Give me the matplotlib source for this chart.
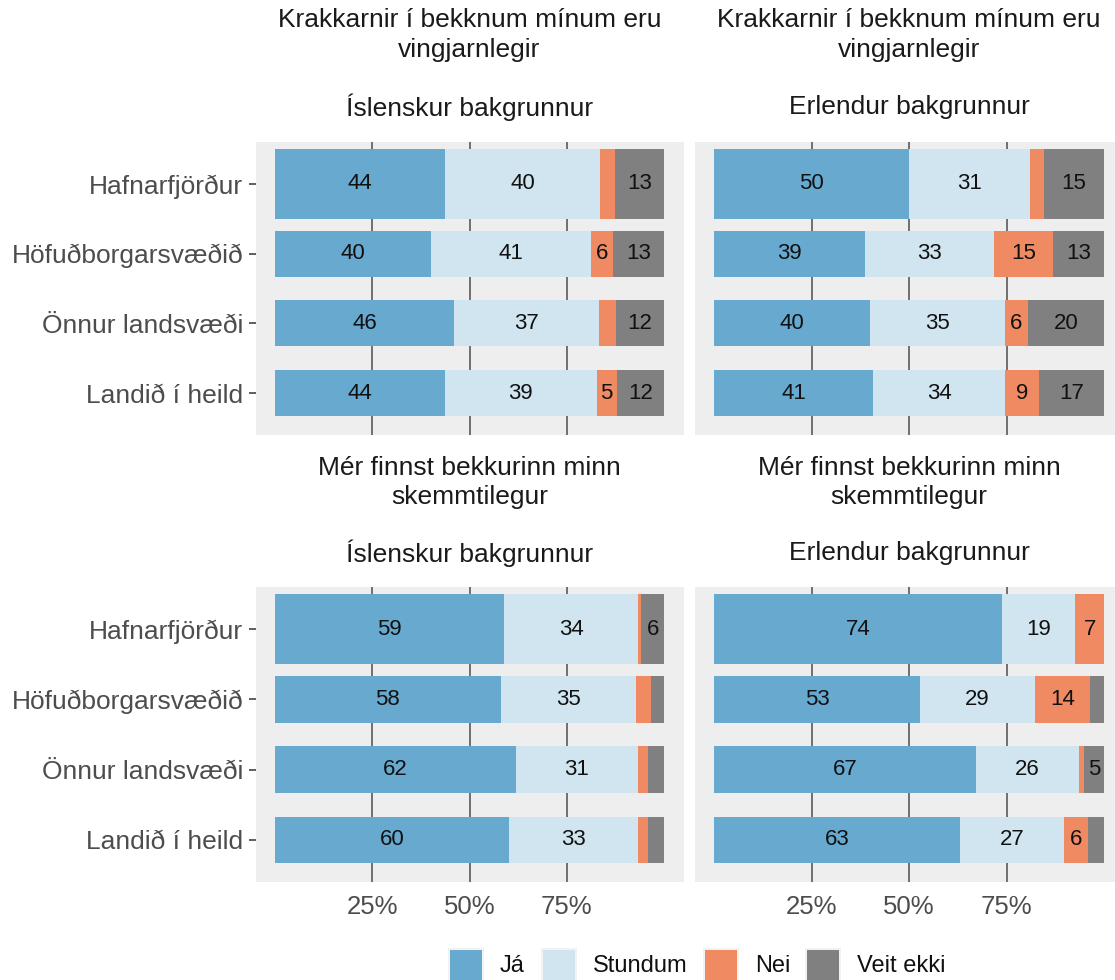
import matplotlib
matplotlib.use("Agg")
import matplotlib.pyplot as plt
from matplotlib.patches import Rectangle

plt.rcParams['font.family'] = ['Liberation Sans', 'DejaVu Sans']

categories = ["Hafnarfjörður", "Höfuðborgarsvæðið", "Önnur landsvæði", "Landið í heild"]
responses = ["Já", "Stundum", "Nei", "Veit ekki"]
colors = ["#67A9CF", "#D1E5F0", "#EF8A62", "#808080"]

questions = ["Krakkarnir í bekknum mínum eru\nvingjarnlegir",
             "Mér finnst bekkurinn minn\nskemmtilegur"]
backgrounds = ["Íslenskur bakgrunnur", "Erlendur bakgrunnur"]

# values per panel: rows = categories, columns = Já, Stundum, Nei, Veit ekki (%)
vingjarnlegir_islenskur = [
    [43.7, 39.9, 3.8, 12.6],
    [40.0, 41.2, 5.7, 13.1],
    [46.0, 37.3, 4.4, 12.3],
    [43.6, 39.1, 5.1, 12.2],
]
vingjarnlegir_erlendur = [
    [50.1, 30.8, 3.8, 15.3],
    [38.8, 33.1, 15.1, 13.0],
    [39.9, 34.6, 5.9, 19.6],
    [40.8, 33.8, 8.8, 16.6],
]
skemmtilegur_islenskur = [
    [58.9, 34.4, 0.8, 5.9],
    [58.0, 34.9, 3.8, 3.3],
    [62.0, 31.2, 2.6, 4.2],
    [60.1, 33.1, 2.8, 4.0],
]
skemmtilegur_erlendur = [
    [73.8, 18.8, 7.4, 0.0],
    [52.9, 29.4, 14.1, 3.6],
    [67.2, 26.4, 1.3, 5.1],
    [63.2, 26.6, 6.1, 4.1],
]
panels = [[vingjarnlegir_islenskur, vingjarnlegir_erlendur],
          [skemmtilegur_islenskur, skemmtilegur_erlendur]]

x_ticks = [25, 50, 75]
x_ticklabels = ["25%", "50%", "75%"]

W, H = 1115, 980
fig = plt.figure(figsize=(W / 100, H / 100), dpi=100)

col_x = [(255.5, 683.5), (694.5, 1123.5)]
row_y = [(142, 435), (587, 882)]
title_y = [(20, 50, 107), (468, 497, 553)]

bar_h = [1.0, 0.66, 0.66, 0.66]
grid_col = "#4D4D4D"

for r in range(2):
    for c in range(2):
        x0, x1 = col_x[c]
        y0, y1 = row_y[r]
        ax = fig.add_axes([x0 / W, 1 - y1 / H, (x1 - x0) / W, (y1 - y0) / H])
        ax.set_facecolor("#EEEEEE")
        for s in ax.spines.values():
            s.set_visible(False)
        data = panels[r][c]
        for i, cat in enumerate(categories):
            left = 0.0
            for j, resp in enumerate(responses):
                v = data[i][j]
                ax.barh(i, v, left=left, height=bar_h[i], color=colors[j], linewidth=0, zorder=2)
                if round(v) >= 5:
                    ax.text(left + v / 2, i, f"{v:.0f}", ha="center", va="center",
                            fontsize=16, color="#111111", zorder=3)
                left += v
        ax.set_xlim(-5, 105)
        ax.set_ylim(3.6, -0.6)
        ax.set_xticks(x_ticks)
        ax.grid(axis="x", color=grid_col, linewidth=1.1, zorder=1)
        ax.set_axisbelow(True)
        ax.tick_params(axis="x", length=0, pad=9, labelsize=18.5, labelcolor="#4D4D4D")
        if r == 1:
            ax.set_xticklabels(x_ticklabels)
        else:
            ax.set_xticklabels([])
        ax.set_yticks(range(len(categories)))
        if c == 0:
            ax.set_yticklabels(categories)
            ax.tick_params(axis="y", length=5, width=1.1, color="#333333", pad=4,
                           labelsize=19, labelcolor="#4D4D4D")
        else:
            ax.set_yticklabels([])
            ax.tick_params(axis="y", length=0)
        # titles
        cx = (x0 + x1) / 2 / W
        l1, l2 = questions[r].split("\n")
        ty = title_y[r]
        fig.text(cx, 1 - ty[0] / H, l1, ha="center", va="center", fontsize=19, color="#1A1A1A")
        fig.text(cx, 1 - ty[1] / H, l2, ha="center", va="center", fontsize=19, color="#1A1A1A")
        fig.text(cx, 1 - ty[2] / H, backgrounds[c], ha="center", va="center", fontsize=19, color="#1A1A1A")

# legend
key_x = [450, 543, 705, 807]
text_x = [500, 593, 755, 857]
for j, resp in enumerate(responses):
    fig.patches.append(Rectangle(((key_x[j] - 2) / W, 1 - 984 / H), 36 / W, 36 / H,
                                 transform=fig.transFigure, facecolor="#F2F2F2", edgecolor="none"))
    fig.patches.append(Rectangle((key_x[j] / W, 1 - 982 / H), 32 / W, 32 / H,
                                 transform=fig.transFigure, facecolor=colors[j], edgecolor="none"))
    fig.text(text_x[j] / W, 1 - 966 / H, resp, ha="left", va="center", fontsize=17, color="#111111")

fig.savefig("out.png", dpi=100)
